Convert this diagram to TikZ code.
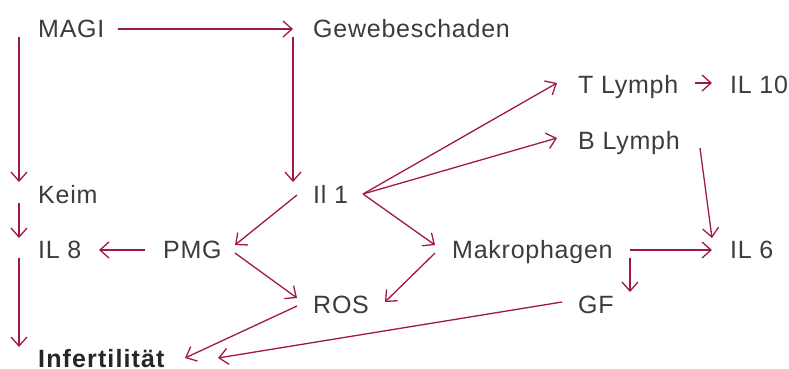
\documentclass[tikz,border=0pt]{standalone}
\usepackage{fontspec}
\setmainfont{Liberation Sans}
\newfontfamily\lblfont[LetterSpace=3]{Liberation Sans}
\newfontfamily\lblbold[LetterSpace=4.5]{Liberation Sans Bold}
\usetikzlibrary{arrows.meta,calc}
\definecolor{wine}{RGB}{160,25,65}
\definecolor{txt}{RGB}{60,60,60}
\begin{document}
\begin{tikzpicture}[x=1pt,y=-1pt,
  lbl/.style={anchor=base west,inner sep=0pt,text=txt,font=\lblfont\fontsize{25}{30}\selectfont},
  arr/.style={draw=wine,line width=1.3pt,-{Straight Barb[length=9pt,width=16pt,line width=1.3pt]}}]
\useasboundingbox (0,0) rectangle (789,368);
\node[lbl] (magi) at (38,37) {MAGI};
\node[lbl] (gew) at (313,37) {Gewebeschaden};
\node[lbl] (tl) at (578,93) {T Lymph};
\node[lbl] (il10) at (730,93) {IL 10};
\node[lbl] (bl) at (578,149) {B Lymph};
\node[lbl] (keim) at (38,203) {Keim};
\node[lbl] (il1) at (313,203) {Il 1};
\node[lbl] (il8) at (38,258) {IL 8};
\node[lbl] (pmg) at (163,258) {PMG};
\node[lbl] (mak) at (452,258) {Makrophagen};
\node[lbl] (il6) at (730,258) {IL 6};
\node[lbl] (ros) at (313,313) {ROS};
\node[lbl] (gf) at (578,313) {GF};
\node[lbl,font=\lblbold\fontsize{25}{30}\selectfont,text=black!85] (inf) at (38,367) {Infertilität};
% connectors
\draw[arr] ($(magi.base west)+(80,-8)$) -- ($(gew.base west)+(-20,-8)$);
\draw[arr] ($(magi.base west)+(-19,0)$) -- ($(keim.base west)+(-19,-21)$);
\draw[arr] ($(keim.base west)+(-19,0)$) -- ($(il8.base west)+(-19,-20)$);
\draw[arr] ($(il8.base west)+(-19,0)$) -- ($(inf.base west)+(-19,-20)$);
\draw[arr] ($(gew.base west)+(-20,0)$) -- ($(il1.base west)+(-20,-21)$);
\draw[arr] ($(il1.base west)+(-16,-8)$) -- ($(pmg.base west)+(72,-13)$);
\draw[arr] ($(pmg.base west)+(-18,-8)$) -- ($(il8.base west)+(61,-8)$);
\draw[arr] ($(pmg.base west)+(72,-5)$) -- ($(ros.base west)+(-16,-15)$);
\draw[arr] ($(ros.base west)+(-16,-7)$) -- ($(inf.base west)+(147,-9)$);
\draw[arr] ($(gf.base west)+(-16,-11)$) -- ($(inf.base west)+(180,-9)$);
\draw[arr] ($(il1.base west)+(50,-9)$) -- ($(tl.base west)+(-21,-10)$);
\draw[arr] ($(il1.base west)+(50,-9)$) -- ($(bl.base west)+(-21,-11)$);
\draw[arr] ($(il1.base west)+(50,-9)$) -- ($(mak.base west)+(-17,-13)$);
\draw[arr] ($(mak.base west)+(-17,-5)$) -- ($(ros.base west)+(72,-11)$);
\draw[arr] ($(tl.base west)+(117,-10)$) -- ($(il10.base west)+(-18,-10)$);
\draw[arr] ($(bl.base west)+(122,-1)$) -- ($(il6.base west)+(-18,-20)$);
\draw[arr] ($(mak.base west)+(178,-8)$) -- ($(il6.base west)+(-18,-8)$);
\draw[arr] ($(mak.base west)+(178,0)$) -- ($(gf.base west)+(52,-21)$);
\end{tikzpicture}
\end{document}
